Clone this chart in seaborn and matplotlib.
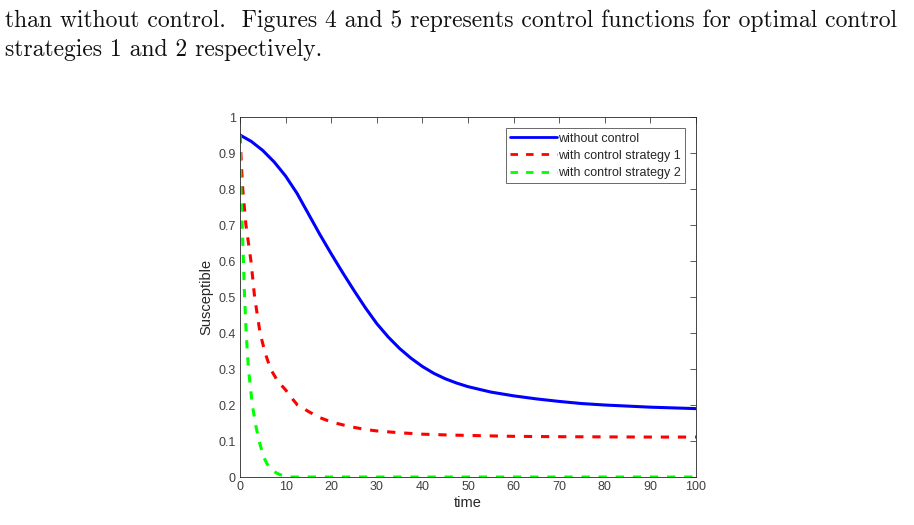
import numpy as np
import matplotlib
matplotlib.use("Agg")
import matplotlib.pyplot as plt
import seaborn as sns

# values
t_nc = [0, 2.5, 5, 7.5, 10, 12.5, 15, 17.5, 20, 22.5, 25, 27.5, 30, 32.5, 35,
        37.5, 40, 42.5, 45, 47.5, 50, 55, 60, 65, 70, 75, 80, 85, 90, 95, 100]
s_nc = [0.95, 0.932, 0.907, 0.875, 0.836, 0.788, 0.731, 0.674, 0.62, 0.568,
        0.518, 0.47, 0.426, 0.389, 0.357, 0.33, 0.307, 0.288, 0.273, 0.261,
        0.251, 0.236, 0.2255, 0.217, 0.21, 0.204, 0.2, 0.197, 0.194, 0.192, 0.19]

t_s1 = [0, 0.3, 0.6, 1.3, 2.4, 3.2, 4.4, 5.5, 6.7, 8, 9, 10, 11.3, 12.6, 14,
        15, 17.5, 20, 22.5, 25, 27.5, 30, 35, 40, 45, 50, 60, 70, 80, 90, 100]
s_s1 = [0.95, 0.87, 0.8, 0.7, 0.6, 0.5, 0.4, 0.345, 0.3, 0.272, 0.256, 0.242,
        0.22, 0.2, 0.19, 0.182, 0.165, 0.153, 0.145, 0.138, 0.132, 0.128,
        0.123, 0.119, 0.117, 0.1155, 0.113, 0.112, 0.1115, 0.111, 0.111]

t_s2 = [0, 0.2, 0.75, 1.0, 1.35, 1.85, 2.7, 3.5, 4.3, 5.2, 6, 7, 8, 8.9, 10,
        11, 15, 100]
s_s2 = [0.95, 0.8, 0.6, 0.5, 0.4, 0.3, 0.2, 0.14, 0.095, 0.055, 0.035, 0.02,
        0.011, 0.006, 0.002, 0.0, 0.0, 0.0]

labels = ["without control", "with control strategy 1", "with control strategy 2"]
para = ["than without control.  Figures 4 and 5 represents control functions for optimal control",
        "strategies 1 and 2 respectively."]

sns.set_style("white")
plt.rcParams["font.family"] = ["Liberation Sans", "DejaVu Sans"]

fig = plt.figure(figsize=(9.14, 5.25), dpi=100)
ax = fig.add_axes([0.2626, 0.0914, 0.4989, 0.6857])

sns.lineplot(x=t_nc, y=s_nc, ax=ax, color="#0000ff", lw=2.2, label=labels[0])
sns.lineplot(x=t_s1, y=s_s1, ax=ax, color="#ff0000", lw=2.2, label=labels[1])
sns.lineplot(x=t_s2, y=s_s2, ax=ax, color="#00ff00", lw=2.2, label=labels[2])
ax.lines[1].set_dashes([2.7, 2.9])
ax.lines[2].set_dashes([2.7, 2.9])

ax.set_xlim(0, 100)
ax.set_ylim(0, 1)
ax.set_xticks(np.arange(0, 101, 10))
ax.set_yticks(np.arange(0, 1.01, 0.1))
ax.set_yticklabels(["0"] + [f"{v:.1f}" for v in np.arange(0.1, 0.95, 0.1)] + ["1"])
ax.tick_params(direction="in", top=True, right=True, length=4, width=0.6,
               labelsize=9, colors="#404040", pad=3)
for sp in ax.spines.values():
    sp.set_color("#262626")
    sp.set_linewidth(0.6)
ax.set_xlabel("time", fontsize=10.5, color="#262626", labelpad=2)
ax.set_ylabel("Susceptible", fontsize=10.5, color="#262626", labelpad=4)

leg = ax.legend(loc="upper right", bbox_to_anchor=(0.976, 0.969), fontsize=9,
                frameon=True, fancybox=False, handlelength=3.7, handletextpad=0.1,
                borderpad=0.35, labelspacing=0.42, borderaxespad=0)
leg.get_frame().set_edgecolor("#262626")
leg.get_frame().set_linewidth(0.6)
for h in leg.get_lines():
    h.set_linewidth(2.0)

fig.text(0.006, 0.948, para[0], family="cmr10", fontsize=17, color="#111111",
         va="baseline")
fig.text(0.006, 0.893, para[1], family="cmr10", fontsize=17, color="#111111",
         va="baseline")

fig.savefig("out.png", dpi=100)
